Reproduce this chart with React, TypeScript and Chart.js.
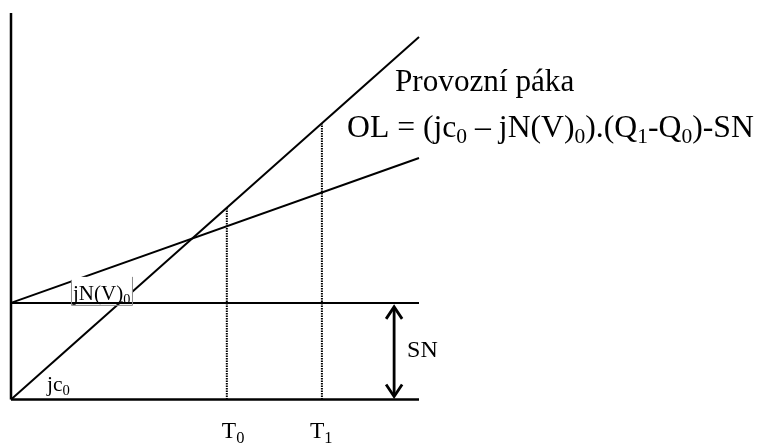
import React, { useEffect, useRef } from "react";
import { Chart, registerables } from "chart.js";

Chart.register(...registerables);

// ---- data (diagram units) ----
const xDomain = [0, 100];
const yDomain = [0, 100];
const jcValues = [0, 93.8]; // jc0 line at xDomain ends
const jnValues = [25, 62.5]; // jN(V)0 line at xDomain ends
const snValues = [25, 25]; // fixed costs level
const tPositions = [52.9, 76.2];
const tTops = [49.6, 71.5];
const tNames = ["T", "T"];
const tSubs = ["0", "1"];
const snRange = [0, 25];
const snArrowX = 93.9;
const jnLabelX = 14.7;

// ---- styles ----
const FONT = '"Liberation Serif", "Times New Roman", serif';
const tLabelDx = [-5, -12];

type Seg = { t: string; sub?: boolean };

function drawRich(ctx: CanvasRenderingContext2D, segs: Seg[], x: number, y: number, size: number, subScale = 0.68, subDrop = 0.2) {
  let cx = x;
  for (const s of segs) {
    const fs = s.sub ? size * subScale : size;
    ctx.font = `${fs}px ${FONT}`;
    ctx.fillText(s.t, cx, s.sub ? y + size * subDrop : y);
    cx += ctx.measureText(s.t).width;
  }
  return cx - x;
}

const annotations = {
  id: "annotations",
  afterDatasetsDraw(chart: any) {
    const { ctx } = chart;
    const xs = chart.scales.x;
    const ys = chart.scales.y;
    ctx.save();
    ctx.fillStyle = "#000";
    ctx.strokeStyle = "#000";
    ctx.textBaseline = "alphabetic";
    ctx.textAlign = "left";

    // double arrow for SN
    const ax = xs.getPixelForValue(snArrowX);
    const yb = ys.getPixelForValue(snRange[0]) - 3;
    const yt = ys.getPixelForValue(snRange[1]) + 4;
    ctx.lineWidth = 2.8;
    ctx.lineCap = "butt";
    ctx.lineJoin = "miter";
    ctx.beginPath();
    ctx.moveTo(ax, yt + 1);
    ctx.lineTo(ax, yb - 1);
    ctx.stroke();
    ctx.beginPath();
    ctx.moveTo(ax - 8, yt + 12);
    ctx.lineTo(ax, yt);
    ctx.lineTo(ax + 8, yt + 12);
    ctx.stroke();
    ctx.beginPath();
    ctx.moveTo(ax - 8, yb - 12);
    ctx.lineTo(ax, yb);
    ctx.lineTo(ax + 8, yb - 12);
    ctx.stroke();

    // SN label
    drawRich(ctx, [{ t: "SN" }], ax + 13, yt + 50, 24);

    // jN(V)0 label box
    const ySN = ys.getPixelForValue(snValues[0]);
    const bx = xs.getPixelForValue(jnLabelX);
    const bw = 61;
    ctx.fillStyle = "#fff";
    ctx.fillRect(bx, ySN - 26, bw, 24.5);
    ctx.strokeStyle = "#8a8a8a";
    ctx.lineWidth = 1;
    ctx.beginPath();
    ctx.moveTo(bx + 0.5, ySN - 23);
    ctx.lineTo(bx + 0.5, ySN + 2.5);
    ctx.lineTo(bx + bw + 0.5, ySN + 2.5);
    ctx.lineTo(bx + bw + 0.5, ySN - 26);
    ctx.stroke();
    ctx.fillStyle = "#000";
    drawRich(ctx, [{ t: "jN(V)" }, { t: "0", sub: true }], bx + 2, ySN - 3, 21);

    // jc0 label
    const x0 = xs.getPixelForValue(xDomain[0]);
    const yb0 = ys.getPixelForValue(yDomain[0]);
    drawRich(ctx, [{ t: "jc" }, { t: "0", sub: true }], x0 + 36, yb0 - 9, 21.5);

    // T labels
    tPositions.forEach((t, i) => {
      const px = xs.getPixelForValue(t);
      drawRich(ctx, [{ t: tNames[i] }, { t: tSubs[i], sub: true }], px + tLabelDx[i], yb0 + 38.5, 23.5, 0.7, 0.22);
    });

    // titles
    drawRich(ctx, [{ t: "Provozní páka" }], 395, 91, 31.2);
    drawRich(
      ctx,
      [
        { t: "OL = (jc" },
        { t: "0", sub: true },
        { t: " – jN(V)" },
        { t: "0", sub: true },
        { t: ").(Q" },
        { t: "1", sub: true },
        { t: "-Q" },
        { t: "0", sub: true },
        { t: ")-SN" },
      ],
      347,
      137,
      31.7
    );
    ctx.restore();
  },
};

function line(data: { x: number; y: number }[], width = 2, dash: number[] = []) {
  return {
    data,
    showLine: true,
    borderColor: "#000",
    backgroundColor: "#000",
    borderWidth: width,
    borderDash: dash,
    pointRadius: 0,
    tension: 0,
    clip: false as any,
    fill: false,
  };
}

export default function App() {
  const ref = useRef<HTMLCanvasElement | null>(null);
  useEffect(() => {
    if (!ref.current) return;
    const datasets: any[] = [
      line([{ x: xDomain[0], y: yDomain[0] }, { x: xDomain[0], y: yDomain[1] }], 2.5),
      line([{ x: xDomain[0], y: yDomain[0] }, { x: xDomain[1], y: yDomain[0] }], 2.5),
      line(xDomain.map((x, i) => ({ x, y: snValues[i] })), 2),
      line(xDomain.map((x, i) => ({ x, y: jcValues[i] })), 2),
      line(xDomain.map((x, i) => ({ x, y: jnValues[i] })), 2),
      ...tPositions.map((t, i) => line([{ x: t, y: yDomain[0] }, { x: t, y: tTops[i] }], 2, [1.5, 1])),
    ];
    const chart = new Chart(ref.current, {
      type: "scatter",
      data: { datasets },
      options: {
        animation: false,
        responsive: false,
        events: [],
        layout: { padding: { left: 11, top: 13, right: 340, bottom: 43.5 } },
        scales: {
          x: { type: "linear", min: xDomain[0], max: xDomain[1], display: false },
          y: { type: "linear", min: yDomain[0], max: yDomain[1], display: false },
        },
        plugins: { legend: { display: false }, tooltip: { enabled: false } },
      },
      plugins: [annotations],
    });
    return () => chart.destroy();
  }, []);
  return (
    <div style={{ position: "fixed", left: 0, top: 0, width: 759, height: 443, background: "#fff" }}>
      <canvas ref={ref} width={759} height={443} style={{ display: "block" }} />
    </div>
  );
}
